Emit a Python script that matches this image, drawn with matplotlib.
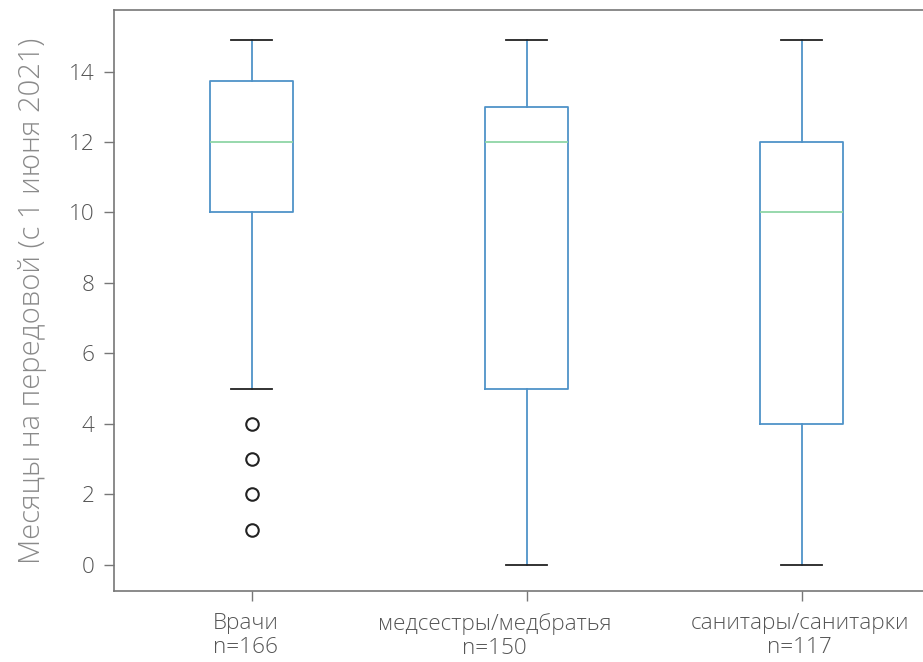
import matplotlib

matplotlib.use("Agg")
import matplotlib.pyplot as plt
import matplotlib.transforms as mtransforms

# группы и статистика ящиков (чтение с картинки)
groups = ["Врачи", "медсестры/медбратья", "санитары/санитарки"]
counts = [166, 150, 117]
medians = [12, 12, 10]
q1 = [10, 5, 4]
q3 = [13.72, 13, 12]
whisker_lo = [5, 0, 0]
whisker_hi = [14.9, 14.9, 14.9]
fliers = [[1, 2, 3, 4], [], []]

plt.rcParams["font.family"] = ["Open Sans", "DejaVu Sans"]

stats = []
for i, g in enumerate(groups):
    stats.append(
        {
            "label": f"{g}\nn={counts[i]}",
            "med": medians[i],
            "q1": q1[i],
            "q3": q3[i],
            "whislo": whisker_lo[i],
            "whishi": whisker_hi[i],
            "fliers": fliers[i],
        }
    )

fig = plt.figure(figsize=(9.23, 6.62), dpi=100)
ax = fig.add_axes([0.1235, 0.107, 0.894, 0.878])

blue = "#4f93c8"
ax.bxp(
    stats,
    widths=0.3,
    boxprops=dict(color=blue, linewidth=1.3),
    whiskerprops=dict(color=blue, linewidth=1.3),
    capprops=dict(color="#222222", linewidth=1.3),
    medianprops=dict(color="#8fd6a6", linewidth=1.3),
    flierprops=dict(marker="o", markerfacecolor="none", markeredgecolor="#222222",
                    markersize=9, markeredgewidth=1.5),
)

ax.set_xlim(0.5, 3.5)
ax.set_ylim(-0.75, 15.75)
ax.set_yticks(range(0, 15, 2))
ax.set_ylabel("Месяцы на передовой (с 1 июня 2021)", fontsize=21,
              color="#8a8a8a", fontweight="light", labelpad=16)

for s in ax.spines.values():
    s.set_color("#777777")
    s.set_linewidth(1.2)
ax.tick_params(axis="both", colors="#777777", length=7, width=1.0,
               labelsize=16.2, labelcolor="#555555")
ax.tick_params(axis="y", pad=7)
ax.tick_params(axis="x", pad=9)
for lbl in ax.get_xticklabels() + ax.get_yticklabels():
    lbl.set_fontweight("light")

# подписи в оригинале чуть сдвинуты влево
shifts_px = [-6, -32, -2]
for lbl, dx in zip(ax.get_xticklabels(), shifts_px):
    lbl.set_linespacing(1.15)
    lbl.set_transform(lbl.get_transform() + mtransforms.Affine2D().translate(dx, 0))

fig.savefig("out.png", dpi=100)
